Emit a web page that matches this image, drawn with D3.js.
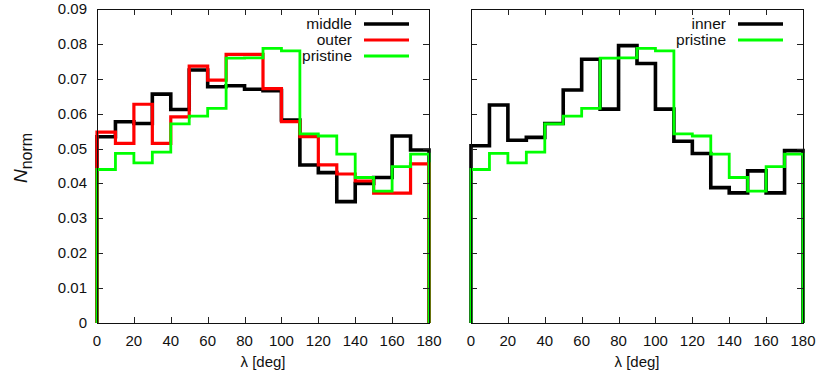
<!DOCTYPE html>
<html>
<head>
<meta charset="utf-8">
<script src="https://cdn.jsdelivr.net/npm/d3@7"></script>
<style>
  html, body { margin: 0; padding: 0; background: #fff; }
  svg { display: block; font-family: "Liberation Sans", Arial, Helvetica, sans-serif; }
</style>
</head>
<body>
<svg id="chart" width="821" height="378"></svg>
<script>
// Bin edges in degrees (10-degree bins from 0 to 180)
const binEdges = [0, 10, 20, 30, 40, 50, 60, 70, 80, 90, 100, 110, 120, 130, 140, 150, 160, 170, 180];

// Normalised counts per bin
const middle = [0.0534, 0.0577, 0.0572, 0.0656, 0.0612, 0.0725, 0.0677, 0.0680, 0.0670, 0.0666,
                0.0582, 0.0453, 0.0431, 0.0348, 0.0400, 0.0417, 0.0536, 0.0496];
const outer = [0.0547, 0.0515, 0.0627, 0.0515, 0.0591, 0.0736, 0.0696, 0.0770, 0.0770, 0.0672,
               0.0577, 0.0534, 0.0453, 0.0427, 0.0407, 0.0372, 0.0372, 0.0456];
const pristine = [0.0440, 0.0486, 0.0459, 0.0490, 0.0571, 0.0593, 0.0615, 0.0759, 0.0760, 0.0787,
                  0.0780, 0.0542, 0.0536, 0.0484, 0.0417, 0.0378, 0.0448, 0.0484];
const inner = [0.0508, 0.0625, 0.0524, 0.0532, 0.0572, 0.0668, 0.0756, 0.0613, 0.0795, 0.0744,
               0.0613, 0.0521, 0.0486, 0.0388, 0.0373, 0.0436, 0.0373, 0.0494];

// Tick values and labels
const xTicks = [0, 20, 40, 60, 80, 100, 120, 140, 160, 180];
const yTicks = [0, 0.01, 0.02, 0.03, 0.04, 0.05, 0.06, 0.07, 0.08, 0.09];
const yTickLabels = ["0", "0.01", "0.02", "0.03", "0.04", "0.05", "0.06", "0.07", "0.08", "0.09"];

const panels = [
  { x0: 97, x1: 429, showY: true,
    series: [
      { name: "middle", values: middle, color: "#000000", width: 3.6 },
      { name: "outer", values: outer, color: "#ff0000", width: 3.2 },
      { name: "pristine", values: pristine, color: "#00ff00", width: 2.8 }
    ] },
  { x0: 471, x1: 803, showY: false,
    series: [
      { name: "inner", values: inner, color: "#000000", width: 3.6 },
      { name: "pristine", values: pristine, color: "#00ff00", width: 2.8 }
    ] }
];

const svg = d3.select("#chart");
const yTop = 9, yBot = 323;
const tickLen = 6;
const fontSize = 15;

const y = d3.scaleLinear().domain([0, 0.09]).range([yBot, yTop]);

// Histogram outline: rises from zero at the first edge, steps across each bin, drops to zero at the end
function stepPoints(values) {
  const pts = [[binEdges[0], 0]];
  values.forEach((v, i) => {
    pts.push([binEdges[i], v]);
    pts.push([binEdges[i + 1], v]);
  });
  pts.push([binEdges[binEdges.length - 1], 0]);
  return pts;
}

panels.forEach(p => {
  const x = d3.scaleLinear().domain([0, 180]).range([p.x0, p.x1]);
  const g = svg.append("g");

  // histogram lines
  const line = d3.line().x(d => x(d[0])).y(d => y(d[1]));
  p.series.forEach(s => {
    g.append("path")
      .attr("d", line(stepPoints(s.values)))
      .attr("fill", "none")
      .attr("stroke", s.color)
      .attr("stroke-width", s.width)
      .attr("stroke-linejoin", "miter");
  });

  // inward ticks on all four sides
  const ticks = g.append("g").attr("stroke", "#222").attr("stroke-width", 1);
  xTicks.forEach(t => {
    const xx = Math.round(x(t)) + 0.5;
    ticks.append("line").attr("x1", xx).attr("x2", xx).attr("y1", yBot).attr("y2", yBot - tickLen);
    ticks.append("line").attr("x1", xx).attr("x2", xx).attr("y1", yTop).attr("y2", yTop + tickLen);
  });
  yTicks.forEach(t => {
    const yy = Math.round(y(t)) + 0.5;
    ticks.append("line").attr("x1", p.x0).attr("x2", p.x0 + tickLen).attr("y1", yy).attr("y2", yy);
    ticks.append("line").attr("x1", p.x1).attr("x2", p.x1 - tickLen).attr("y1", yy).attr("y2", yy);
  });

  // frame
  g.append("rect")
    .attr("x", p.x0 + 0.5).attr("y", yTop + 0.5)
    .attr("width", p.x1 - p.x0).attr("height", yBot - yTop)
    .attr("fill", "none").attr("stroke", "#111").attr("stroke-width", 1);

  // x tick labels
  xTicks.forEach(t => {
    g.append("text")
      .attr("x", x(t)).attr("y", yBot + 23)
      .attr("text-anchor", "middle")
      .attr("font-size", fontSize).attr("fill", "#111")
      .text(t);
  });

  // y tick labels
  if (p.showY) {
    yTicks.forEach((t, i) => {
      g.append("text")
        .attr("x", p.x0 - 10).attr("y", y(t) + 5)
        .attr("text-anchor", "end")
        .attr("font-size", fontSize).attr("fill", "#111")
        .text(yTickLabels[i]);
    });
  }

  // x axis title
  g.append("text")
    .attr("x", (p.x0 + p.x1) / 2).attr("y", 367)
    .attr("text-anchor", "middle")
    .attr("font-size", fontSize).attr("fill", "#111")
    .text("λ [deg]");

  // legend
  const legRight = p.x1 - 20, legLen = 45;
  p.series.forEach((s, i) => {
    const ly = 24 + i * 16;
    g.append("text")
      .attr("x", legRight - legLen - 12).attr("y", ly + 5)
      .attr("text-anchor", "end")
      .attr("font-size", fontSize + 0.5).attr("fill", "#111")
      .text(s.name);
    g.append("line")
      .attr("x1", legRight - legLen).attr("x2", legRight)
      .attr("y1", ly).attr("y2", ly)
      .attr("stroke", s.color).attr("stroke-width", s.width);
  });
});

// y axis title: italic N with subscript "norm"
const yt = svg.append("text")
  .attr("transform", "translate(27,158) rotate(-90)")
  .attr("text-anchor", "middle")
  .attr("font-size", 19).attr("fill", "#111");
yt.append("tspan").attr("font-style", "italic").text("N");
yt.append("tspan").attr("dy", 5).attr("font-size", 16).text("norm");
</script>
</body>
</html>
